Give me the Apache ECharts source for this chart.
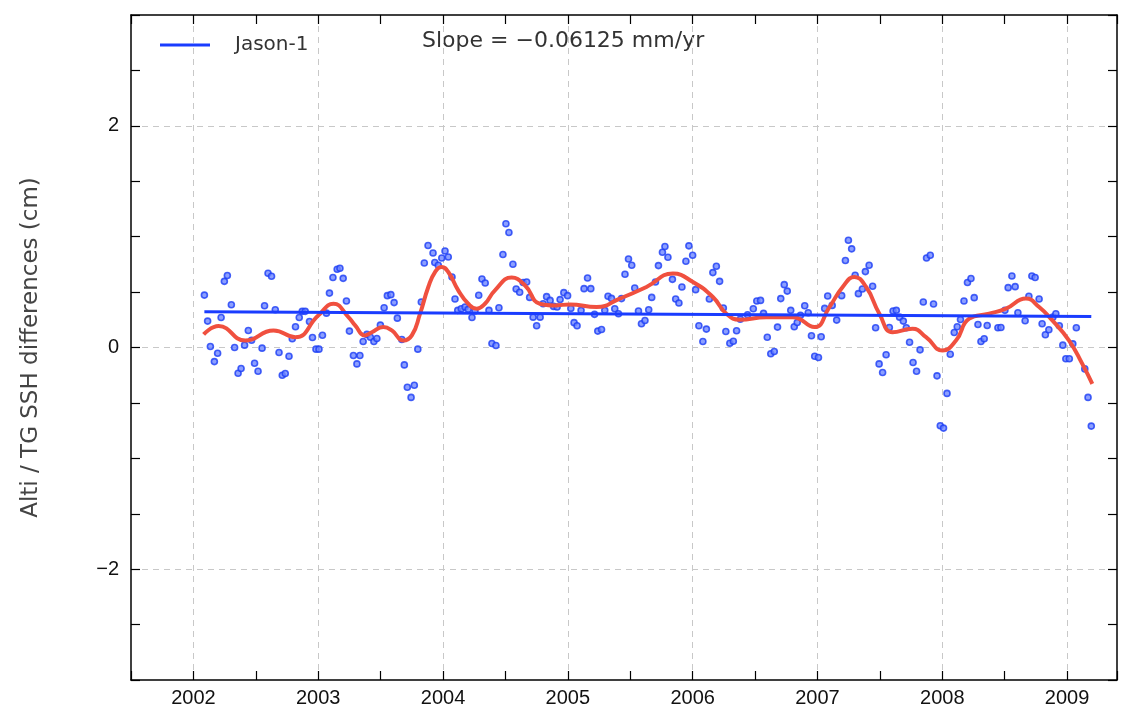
<!DOCTYPE html>
<html>
<head>
<meta charset="utf-8">
<script src="https://cdn.jsdelivr.net/npm/echarts@6/dist/echarts.min.js"></script>
<style>html,body{margin:0;padding:0;background:#fff}#c{width:1121px;height:715px}</style>
</head>
<body>
<div id="c"></div>
<script>
// Observed altimetry minus tide-gauge differences (cm)
const ptYears = [2002.088,2002.114,2002.136,2002.168,2002.194,2002.222,2002.248,2002.272,2002.304,2002.330,2002.358,2002.382,2002.410,2002.440,2002.466,2002.490,2002.518,2002.550,2002.570,2002.598,2002.626,2002.656,2002.686,2002.712,2002.736,2002.766,2002.792,2002.818,2002.848,2002.872,2002.896,2002.930,2002.954,2002.982,2003.006,2003.034,2003.066,2003.090,2003.118,2003.152,2003.174,2003.200,2003.226,2003.250,2003.282,2003.310,2003.334,2003.360,2003.390,2003.418,2003.446,2003.470,2003.498,2003.528,2003.554,2003.582,2003.608,2003.634,2003.670,2003.690,2003.714,2003.744,2003.770,2003.798,2003.826,2003.850,2003.880,2003.920,2003.934,2003.962,2003.990,2004.016,2004.042,2004.072,2004.096,2004.118,2004.146,2004.176,2004.202,2004.232,2004.256,2004.286,2004.312,2004.338,2004.368,2004.392,2004.424,2004.448,2004.480,2004.504,2004.528,2004.560,2004.586,2004.614,2004.642,2004.670,2004.694,2004.722,2004.750,2004.778,2004.802,2004.830,2004.858,2004.886,2004.914,2004.938,2004.968,2004.998,2005.024,2005.050,2005.074,2005.106,2005.130,2005.158,2005.184,2005.214,2005.240,2005.270,2005.296,2005.322,2005.350,2005.376,2005.406,2005.430,2005.458,2005.486,2005.512,2005.536,2005.566,2005.590,2005.618,2005.648,2005.672,2005.702,2005.726,2005.758,2005.778,2005.802,2005.838,2005.864,2005.890,2005.914,2005.946,2005.970,2006.000,2006.024,2006.050,2006.082,2006.110,2006.134,2006.162,2006.190,2006.216,2006.246,2006.266,2006.298,2006.326,2006.352,2006.382,2006.440,2006.486,2006.514,2006.544,2006.568,2006.598,2006.626,2006.654,2006.680,2006.706,2006.734,2006.758,2006.786,2006.814,2006.838,2006.864,2006.898,2006.926,2006.952,2006.978,2007.008,2007.030,2007.058,2007.082,2007.118,2007.154,2007.194,2007.224,2007.248,2007.274,2007.302,2007.328,2007.360,2007.384,2007.414,2007.442,2007.466,2007.494,2007.522,2007.550,2007.576,2007.606,2007.632,2007.658,2007.688,2007.712,2007.738,2007.766,2007.794,2007.822,2007.848,2007.874,2007.904,2007.930,2007.958,2007.984,2008.010,2008.038,2008.064,2008.096,2008.120,2008.146,2008.174,2008.202,2008.230,2008.256,2008.286,2008.310,2008.336,2008.360,2008.446,2008.470,2008.502,2008.528,2008.558,2008.584,2008.606,2008.664,2008.694,2008.718,2008.744,2008.776,2008.800,2008.826,2008.854,2008.886,2008.910,2008.938,2008.966,2008.990,2009.018,2009.046,2009.074,2009.142,2009.168,2009.194];
const ptValues = [0.473,0.238,0.009,-0.127,-0.052,0.271,0.597,0.649,0.386,0.000,-0.233,-0.190,0.021,0.154,0.066,-0.142,-0.214,-0.006,0.377,0.670,0.643,0.341,-0.045,-0.251,-0.235,-0.079,0.079,0.187,0.271,0.326,0.326,0.235,0.090,-0.015,-0.015,0.111,0.310,0.491,0.631,0.706,0.715,0.624,0.419,0.148,-0.072,-0.148,-0.072,0.054,0.118,0.093,0.054,0.081,0.202,0.359,0.468,0.477,0.405,0.265,0.072,-0.157,-0.359,-0.450,-0.341,-0.015,0.410,0.763,0.920,0.853,0.767,0.742,0.808,0.871,0.817,0.636,0.437,0.335,0.350,0.365,0.344,0.271,0.329,0.471,0.618,0.582,0.335,0.036,0.018,0.359,0.839,1.116,1.038,0.751,0.528,0.498,0.586,0.591,0.452,0.274,0.196,0.274,0.395,0.459,0.425,0.371,0.365,0.432,0.495,0.468,0.353,0.224,0.196,0.335,0.531,0.627,0.531,0.299,0.148,0.163,0.335,0.462,0.443,0.350,0.305,0.441,0.661,0.799,0.742,0.537,0.329,0.214,0.244,0.341,0.452,0.591,0.739,0.860,0.911,0.814,0.615,0.437,0.401,0.546,0.778,0.917,0.833,0.522,0.196,0.054,0.166,0.437,0.676,0.733,0.597,0.356,0.145,0.039,0.057,0.151,0.256,0.296,0.350,0.419,0.425,0.308,0.093,-0.057,-0.036,0.184,0.441,0.567,0.509,0.335,0.187,0.226,0.290,0.377,0.314,0.106,-0.079,-0.090,0.097,0.353,0.464,0.380,0.247,0.468,0.785,0.968,0.890,0.652,0.486,0.528,0.685,0.742,0.552,0.178,-0.148,-0.226,-0.066,0.181,0.329,0.335,0.274,0.238,0.178,0.048,-0.136,-0.214,-0.021,0.410,0.808,0.833,0.392,-0.256,-0.706,-0.727,-0.414,-0.061,0.136,0.187,0.253,0.419,0.586,0.622,0.450,0.208,0.054,0.079,0.199,0.178,0.181,0.335,0.540,0.645,0.549,0.314,0.242,0.462,0.645,0.631,0.437,0.214,0.115,0.160,0.274,0.305,0.196,0.021,-0.102,-0.102,0.033,0.178,-0.193,-0.450,-0.709];

// Smoothed (low-pass) curve
const fitYears = [2002.082,2002.202,2002.416,2002.642,2002.816,2003.002,2003.122,2003.242,2003.296,2003.376,2003.430,2003.522,2003.590,2003.682,2003.750,2003.816,2003.882,2003.936,2003.990,2004.042,2004.122,2004.202,2004.270,2004.336,2004.416,2004.550,2004.656,2004.776,2004.896,2005.016,2005.230,2005.416,2005.630,2005.842,2006.002,2006.162,2006.270,2006.376,2006.590,2006.802,2006.976,2007.096,2007.202,2007.296,2007.390,2007.496,2007.602,2007.762,2007.870,2008.002,2008.110,2008.216,2008.376,2008.510,2008.670,2008.776,2008.882,2009.016,2009.122,2009.202];
const fitValues = [0.118,0.193,0.063,0.154,0.093,0.290,0.395,0.274,0.199,0.109,0.138,0.184,0.154,0.063,0.109,0.305,0.546,0.681,0.727,0.681,0.516,0.395,0.350,0.395,0.516,0.631,0.561,0.395,0.380,0.389,0.365,0.441,0.546,0.667,0.591,0.455,0.305,0.251,0.274,0.274,0.184,0.365,0.546,0.636,0.546,0.305,0.138,0.169,0.093,-0.027,0.063,0.260,0.305,0.350,0.441,0.365,0.244,0.063,-0.148,-0.328];

// Linear trend (Jason-1)
const trendYears = [2002.088, 2009.194];
const trendValues = [0.322, 0.279];

const xTickLabels = [2002,2003,2004,2005,2006,2007,2008,2009];
const yTickLabels = [-2,0,2];
const seriesName = 'Jason-1';
const slopeText = 'Slope = \u22120.06125 mm/yr';
const yTitle = 'Alti / TG SSH differences (cm)';

const zip = (a,b) => a.map((v,i)=>[v,b[i]]);
const FONT = 'Liberation Sans';
const WIDE = 'DejaVu Sans';
const fmtNeg = v => (v < 0 ? '\u2212' + Math.abs(v) : String(v));

const gridLine = {show:true, lineStyle:{color:['rgba(0,0,0,0)','#c8c8c8'], type:[6,5], width:1}};
const axisLineStyle = {show:true, onZero:false, lineStyle:{color:'#000', width:1.5}};
const tickStyle = {show:true, inside:true, length:9, lineStyle:{color:'#000', width:1.2}};

const chart = echarts.init(document.getElementById('c'), null, {renderer:'canvas'});
chart.setOption({
  animation:false,
  backgroundColor:'#fff',
  grid:{left:131, right:4, top:15, bottom:35, containLabel:false},
  legend:{
    data:[{name:seriesName, icon:'rect'}],
    left:155, top:30, itemWidth:50, itemHeight:3,
    textStyle:{fontFamily:WIDE, fontSize:20, color:'#333', padding:[0,0,0,20]},
    selectedMode:false
  },
  graphic:[{type:'text', left:422, top:30, style:{text:slopeText, font:'22px "DejaVu Sans"', fill:'#333'}}],
  xAxis:[
    {type:'value', min:2001.5, max:2009.4, interval:0.5, position:'bottom',
     axisLine:axisLineStyle, axisTick:tickStyle,
     axisLabel:{show:true, margin:8, fontFamily:FONT, fontSize:20, color:'#111',
       formatter:v => (xTickLabels.indexOf(v) >= 0 ? String(v) : '')},
     splitLine:gridLine},
    {type:'value', min:2001.5, max:2009.4, interval:0.5, position:'top',
     axisLine:axisLineStyle, axisTick:tickStyle,
     axisLabel:{show:false}, splitLine:{show:false}}
  ],
  yAxis:[
    {type:'value', min:-3, max:3, interval:1, position:'left',
     axisLine:axisLineStyle, axisTick:tickStyle,
     minorTick:{show:true, splitNumber:2, length:9, lineStyle:{color:'#000', width:1.2}},
     axisLabel:{show:true, margin:12, fontFamily:FONT, fontSize:20, color:'#111',
       formatter:v => (yTickLabels.indexOf(v) >= 0 ? fmtNeg(v) : '')},
     splitLine:gridLine,
     name:yTitle, nameLocation:'middle', nameGap:88, nameRotate:90,
     nameTextStyle:{fontFamily:WIDE, fontSize:23, color:'#444'}},
    {type:'value', min:-3, max:3, interval:1, position:'right',
     axisLine:axisLineStyle, axisTick:tickStyle,
     minorTick:{show:true, splitNumber:2, length:9, lineStyle:{color:'#000', width:1.2}},
     axisLabel:{show:false}, splitLine:{show:false}}
  ],
  series:[
    {name:'points', type:'scatter', xAxisIndex:0, yAxisIndex:0, data:zip(ptYears, ptValues),
     symbol:'circle', symbolSize:6,
     itemStyle:{color:'#6f87ff', borderColor:'#1a3cf5', borderWidth:1.6}, z:3},
    {name:'fit', type:'line', xAxisIndex:0, yAxisIndex:0, data:zip(fitYears, fitValues),
     smooth:0.5, showSymbol:false, lineStyle:{color:'#f0503f', width:4}, z:4},
    {name:seriesName, type:'line', xAxisIndex:0, yAxisIndex:0, data:zip(trendYears, trendValues),
     showSymbol:false, color:'#1a3cff', lineStyle:{color:'#1a3cff', width:3}, z:5}
  ]
});
</script>
</body>
</html>
